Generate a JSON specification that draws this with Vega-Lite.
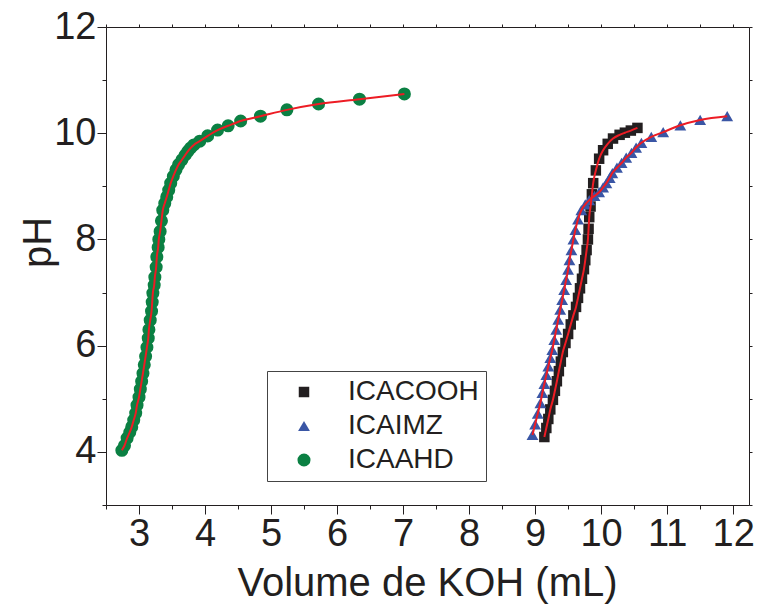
{
  "$schema": "https://vega.github.io/schema/vega-lite/v6.json",
  "width": 643,
  "height": 478,
  "autosize": "none",
  "padding": {"left": 106, "top": 27, "right": 9, "bottom": 105},
  "background": "white",
  "config": {
    "view": {"stroke": null},
    "font": "Liberation Sans",
    "axis": {"domainColor": "#231f20", "tickColor": "#231f20", "labelColor": "#231f20", "titleColor": "#231f20", "grid": false, "labelFont": "Liberation Sans", "titleFont": "Liberation Sans", "titleFontWeight": "normal", "domainWidth": 1, "tickWidth": 1}
  },
  "datasets": {
    "pts": [
      {"s": "ICACOOH", "v": 9.14, "ph": 4.28}, {"s": "ICACOOH", "v": 9.17, "ph": 4.45}, {"s": "ICACOOH", "v": 9.2, "ph": 4.62}, {"s": "ICACOOH", "v": 9.23, "ph": 4.8}, {"s": "ICACOOH", "v": 9.27, "ph": 4.98}, {"s": "ICACOOH", "v": 9.3, "ph": 5.15}, {"s": "ICACOOH", "v": 9.33, "ph": 5.33}, {"s": "ICACOOH", "v": 9.36, "ph": 5.52}, {"s": "ICACOOH", "v": 9.39, "ph": 5.7}, {"s": "ICACOOH", "v": 9.42, "ph": 5.88}, {"s": "ICACOOH", "v": 9.46, "ph": 6.05}, {"s": "ICACOOH", "v": 9.5, "ph": 6.22}, {"s": "ICACOOH", "v": 9.54, "ph": 6.4}, {"s": "ICACOOH", "v": 9.58, "ph": 6.57}, {"s": "ICACOOH", "v": 9.62, "ph": 6.73}, {"s": "ICACOOH", "v": 9.65, "ph": 6.9}, {"s": "ICACOOH", "v": 9.68, "ph": 7.08}, {"s": "ICACOOH", "v": 9.71, "ph": 7.26}, {"s": "ICACOOH", "v": 9.74, "ph": 7.44}, {"s": "ICACOOH", "v": 9.76, "ph": 7.61}, {"s": "ICACOOH", "v": 9.78, "ph": 7.8}, {"s": "ICACOOH", "v": 9.8, "ph": 8.0}, {"s": "ICACOOH", "v": 9.81, "ph": 8.2}, {"s": "ICACOOH", "v": 9.82, "ph": 8.42}, {"s": "ICACOOH", "v": 9.84, "ph": 8.62}, {"s": "ICACOOH", "v": 9.86, "ph": 8.85}, {"s": "ICACOOH", "v": 9.88, "ph": 9.06}, {"s": "ICACOOH", "v": 9.92, "ph": 9.3}, {"s": "ICACOOH", "v": 9.97, "ph": 9.52}, {"s": "ICACOOH", "v": 10.03, "ph": 9.68}, {"s": "ICACOOH", "v": 10.1, "ph": 9.8}, {"s": "ICACOOH", "v": 10.18, "ph": 9.9}, {"s": "ICACOOH", "v": 10.28, "ph": 9.97}, {"s": "ICACOOH", "v": 10.36, "ph": 10.01}, {"s": "ICACOOH", "v": 10.45, "ph": 10.05}, {"s": "ICACOOH", "v": 10.55, "ph": 10.1},
      {"s": "ICAIMZ", "v": 8.96, "ph": 4.32}, {"s": "ICAIMZ", "v": 9.0, "ph": 4.52}, {"s": "ICAIMZ", "v": 9.04, "ph": 4.72}, {"s": "ICAIMZ", "v": 9.08, "ph": 4.92}, {"s": "ICAIMZ", "v": 9.11, "ph": 5.11}, {"s": "ICAIMZ", "v": 9.14, "ph": 5.28}, {"s": "ICAIMZ", "v": 9.17, "ph": 5.45}, {"s": "ICAIMZ", "v": 9.2, "ph": 5.61}, {"s": "ICAIMZ", "v": 9.23, "ph": 5.77}, {"s": "ICAIMZ", "v": 9.26, "ph": 5.92}, {"s": "ICAIMZ", "v": 9.29, "ph": 6.11}, {"s": "ICAIMZ", "v": 9.32, "ph": 6.3}, {"s": "ICAIMZ", "v": 9.35, "ph": 6.49}, {"s": "ICAIMZ", "v": 9.38, "ph": 6.68}, {"s": "ICAIMZ", "v": 9.41, "ph": 6.86}, {"s": "ICAIMZ", "v": 9.44, "ph": 7.05}, {"s": "ICAIMZ", "v": 9.47, "ph": 7.24}, {"s": "ICAIMZ", "v": 9.5, "ph": 7.43}, {"s": "ICAIMZ", "v": 9.52, "ph": 7.61}, {"s": "ICAIMZ", "v": 9.55, "ph": 7.8}, {"s": "ICAIMZ", "v": 9.58, "ph": 8.0}, {"s": "ICAIMZ", "v": 9.61, "ph": 8.18}, {"s": "ICAIMZ", "v": 9.65, "ph": 8.38}, {"s": "ICAIMZ", "v": 9.7, "ph": 8.55}, {"s": "ICAIMZ", "v": 9.76, "ph": 8.66}, {"s": "ICAIMZ", "v": 9.82, "ph": 8.74}, {"s": "ICAIMZ", "v": 9.9, "ph": 8.82}, {"s": "ICAIMZ", "v": 9.97, "ph": 8.89}, {"s": "ICAIMZ", "v": 10.03, "ph": 8.98}, {"s": "ICAIMZ", "v": 10.08, "ph": 9.06}, {"s": "ICAIMZ", "v": 10.13, "ph": 9.16}, {"s": "ICAIMZ", "v": 10.17, "ph": 9.25}, {"s": "ICAIMZ", "v": 10.24, "ph": 9.35}, {"s": "ICAIMZ", "v": 10.31, "ph": 9.44}, {"s": "ICAIMZ", "v": 10.38, "ph": 9.54}, {"s": "ICAIMZ", "v": 10.46, "ph": 9.63}, {"s": "ICAIMZ", "v": 10.53, "ph": 9.73}, {"s": "ICAIMZ", "v": 10.61, "ph": 9.82}, {"s": "ICAIMZ", "v": 10.76, "ph": 9.93}, {"s": "ICAIMZ", "v": 10.94, "ph": 10.02}, {"s": "ICAIMZ", "v": 11.2, "ph": 10.15}, {"s": "ICAIMZ", "v": 11.5, "ph": 10.25}, {"s": "ICAIMZ", "v": 11.91, "ph": 10.32},
      {"s": "ICAAHD", "v": 2.74, "ph": 4.03}, {"s": "ICAAHD", "v": 2.78, "ph": 4.12}, {"s": "ICAAHD", "v": 2.82, "ph": 4.26}, {"s": "ICAAHD", "v": 2.86, "ph": 4.37}, {"s": "ICAAHD", "v": 2.89, "ph": 4.47}, {"s": "ICAAHD", "v": 2.92, "ph": 4.6}, {"s": "ICAAHD", "v": 2.95, "ph": 4.73}, {"s": "ICAAHD", "v": 2.97, "ph": 4.88}, {"s": "ICAAHD", "v": 3.0, "ph": 5.03}, {"s": "ICAAHD", "v": 3.02, "ph": 5.18}, {"s": "ICAAHD", "v": 3.04, "ph": 5.33}, {"s": "ICAAHD", "v": 3.06, "ph": 5.48}, {"s": "ICAAHD", "v": 3.08, "ph": 5.64}, {"s": "ICAAHD", "v": 3.1, "ph": 5.8}, {"s": "ICAAHD", "v": 3.12, "ph": 5.97}, {"s": "ICAAHD", "v": 3.14, "ph": 6.14}, {"s": "ICAAHD", "v": 3.15, "ph": 6.3}, {"s": "ICAAHD", "v": 3.17, "ph": 6.48}, {"s": "ICAAHD", "v": 3.19, "ph": 6.65}, {"s": "ICAAHD", "v": 3.2, "ph": 6.82}, {"s": "ICAAHD", "v": 3.21, "ph": 6.99}, {"s": "ICAAHD", "v": 3.23, "ph": 7.14}, {"s": "ICAAHD", "v": 3.24, "ph": 7.29}, {"s": "ICAAHD", "v": 3.26, "ph": 7.48}, {"s": "ICAAHD", "v": 3.27, "ph": 7.67}, {"s": "ICAAHD", "v": 3.29, "ph": 7.85}, {"s": "ICAAHD", "v": 3.3, "ph": 8.0}, {"s": "ICAAHD", "v": 3.32, "ph": 8.15}, {"s": "ICAAHD", "v": 3.34, "ph": 8.35}, {"s": "ICAAHD", "v": 3.36, "ph": 8.55}, {"s": "ICAAHD", "v": 3.39, "ph": 8.68}, {"s": "ICAAHD", "v": 3.42, "ph": 8.8}, {"s": "ICAAHD", "v": 3.45, "ph": 8.93}, {"s": "ICAAHD", "v": 3.48, "ph": 9.06}, {"s": "ICAAHD", "v": 3.52, "ph": 9.19}, {"s": "ICAAHD", "v": 3.56, "ph": 9.31}, {"s": "ICAAHD", "v": 3.6, "ph": 9.41}, {"s": "ICAAHD", "v": 3.65, "ph": 9.5}, {"s": "ICAAHD", "v": 3.7, "ph": 9.59}, {"s": "ICAAHD", "v": 3.74, "ph": 9.66}, {"s": "ICAAHD", "v": 3.78, "ph": 9.72}, {"s": "ICAAHD", "v": 3.83, "ph": 9.78}, {"s": "ICAAHD", "v": 3.92, "ph": 9.85}, {"s": "ICAAHD", "v": 4.04, "ph": 9.95}, {"s": "ICAAHD", "v": 4.19, "ph": 10.06}, {"s": "ICAAHD", "v": 4.35, "ph": 10.14}, {"s": "ICAAHD", "v": 4.54, "ph": 10.23}, {"s": "ICAAHD", "v": 4.84, "ph": 10.32}, {"s": "ICAAHD", "v": 5.24, "ph": 10.44}, {"s": "ICAAHD", "v": 5.72, "ph": 10.55}, {"s": "ICAAHD", "v": 6.34, "ph": 10.64}, {"s": "ICAAHD", "v": 7.02, "ph": 10.74}
    ]
  },
  "data": {"name": "pts"},
  "layer": [
    {
      "mark": {"type": "point", "filled": true, "opacity": 1, "strokeWidth": 0},
      "encoding": {
        "x": {"field": "v", "type": "quantitative", "scale": {"domain": [2.5, 12.24], "nice": false, "zero": false},
          "axis": {"orient": "bottom", "title": "Volume de KOH (mL)", "values": [3, 4, 5, 6, 7, 8, 9, 10, 11, 12],
            "format": "d", "tickSize": 9,
            "labelFontSize": 38, "labelPadding": 1, "labelFlush": false, "labelOverlap": false,
            "titleFontSize": 40, "titleX": 321, "titleY": 78, "titleBaseline": "middle"}},
        "y": {"field": "ph", "type": "quantitative", "scale": {"domain": [3, 12], "nice": false, "zero": false},
          "axis": {"orient": "left", "title": "pH", "values": [4, 6, 8, 10, 12],
            "format": "d", "tickSize": 9,
            "labelFontSize": 38, "labelPadding": 1, "labelFlush": false, "labelOverlap": false,
            "titleFontSize": 40, "titleX": -68, "titleY": 215, "titleBaseline": "middle", "titleAngle": -90}},
        "size": {"field": "s", "type": "nominal", "scale": {"domain": ["ICACOOH", "ICAIMZ", "ICAAHD"], "range": [110, 170, 130]}, "legend": null},
        "color": {"field": "s", "type": "nominal", "scale": {"domain": ["ICACOOH", "ICAIMZ", "ICAAHD"], "range": ["#231f20", "#3a56a5", "#0b8043"]},
          "legend": {"title": null, "orient": "none", "legendX": 161, "legendY": 344, "strokeColor": "#444444", "fillColor": "white", "padding": 7, "labelFontSize": 28, "labelFont": "Liberation Sans", "labelColor": "#231f20", "symbolSize": 80, "symbolOffset": 16, "labelOffset": 30, "rowPadding": 6, "symbolStrokeWidth": 0}},
        "shape": {"field": "s", "type": "nominal", "scale": {"domain": ["ICACOOH", "ICAIMZ", "ICAAHD"], "range": ["square", "triangle-up", "circle"]},
          "legend": {"title": null, "orient": "none", "legendX": 161, "legendY": 344, "strokeColor": "#444444", "fillColor": "white", "padding": 7, "labelFontSize": 28, "labelFont": "Liberation Sans", "labelColor": "#231f20", "symbolSize": 80, "symbolOffset": 16, "labelOffset": 30, "rowPadding": 6, "symbolStrokeWidth": 0}}
      }
    },
    {
      "mark": {"type": "line", "color": "#ed1c24", "strokeWidth": 2, "interpolate": "monotone"},
      "encoding": {
        "x": {"field": "v", "type": "quantitative", "axis": {"orient": "bottom", "title": null, "labels": false, "domain": false, "values": [2.5, 3.5, 4.5, 5.5, 6.5, 7.5, 8.5, 9.5, 10.5, 11.5], "tickSize": 4}},
        "y": {"field": "ph", "type": "quantitative", "axis": {"orient": "left", "title": null, "labels": false, "domain": false, "values": [3, 5, 7, 9, 11], "tickSize": 4}},
        "detail": {"field": "s", "type": "nominal"}
      }
    },
    {
      "mark": {"type": "point", "opacity": 0},
      "encoding": {
        "x": {"field": "v", "type": "quantitative", "axis": {"orient": "top", "title": null, "labels": false, "values": [2.5, 3, 3.5, 4, 4.5, 5, 5.5, 6, 6.5, 7, 7.5, 8, 8.5, 9, 9.5, 10, 10.5, 11, 11.5, 12], "tickSize": 3}},
        "y": {"field": "ph", "type": "quantitative", "axis": {"orient": "right", "title": null, "labels": false, "values": [3, 4, 5, 6, 7, 8, 9, 10, 11, 12], "tickSize": 3}}
      }
    }
  ],
  "resolve": {"axis": {"x": "independent", "y": "independent"}}
}
